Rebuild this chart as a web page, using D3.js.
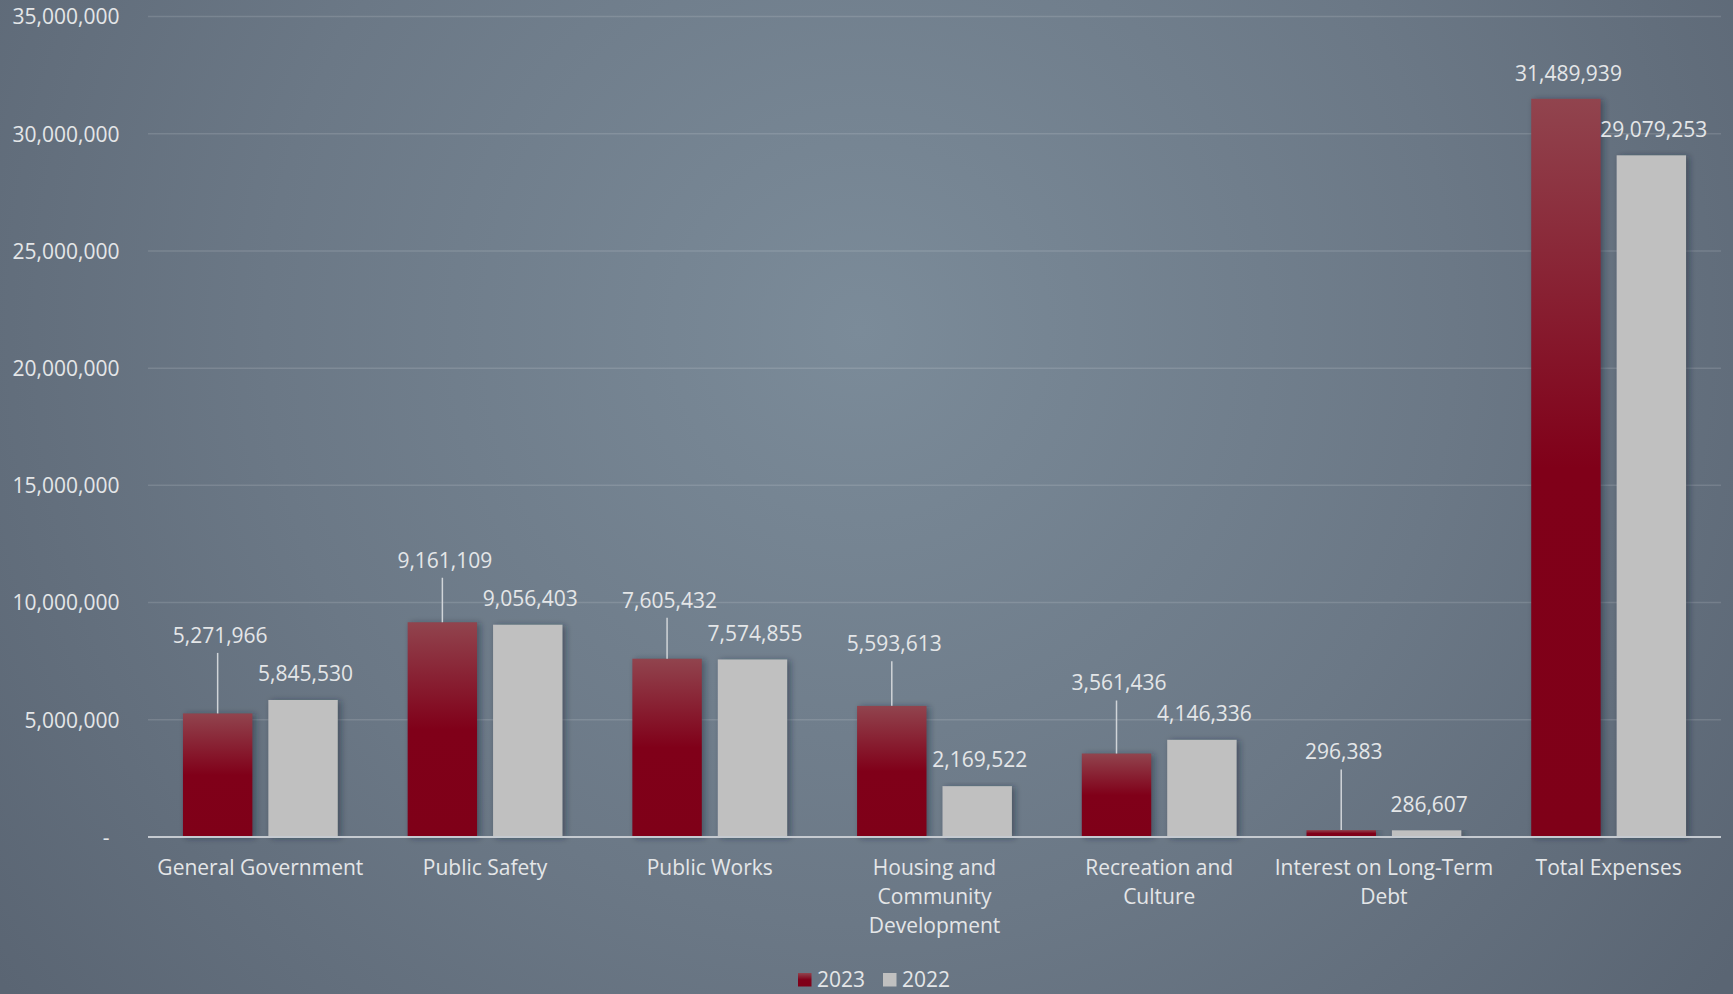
<!DOCTYPE html>
<html>
<head>
<meta charset="utf-8">
<script src="https://cdn.jsdelivr.net/npm/d3@7"></script>
<style>
  html, body { margin: 0; padding: 0; background: #66727f; }
  svg { display: block; }
  text { font-family: "Open Sans", "Noto Sans", sans-serif; }
</style>
</head>
<body>
<svg id="chart" width="1733" height="994"></svg>
<script>
// Expense categories and yearly totals
const categories = [
  "General Government",
  "Public Safety",
  "Public Works",
  "Housing and Community Development",
  "Recreation and Culture",
  "Interest on Long-Term Debt",
  "Total Expenses"
];
const seriesNames = ["2023", "2022"];
const values2023 = [5271966, 9161109, 7605432, 5593613, 3561436, 296383, 31489939];
const values2022 = [5845530, 9056403, 7574855, 2169522, 4146336, 286607, 29079253];
const yTicks = [0, 5000000, 10000000, 15000000, 20000000, 25000000, 30000000, 35000000];

// How far each 2023 value label sits above its bar (leader lines fill the gap)
const labelLift2023 = [78, 62, 58.5, 62, 70.5, 78, 25];
const labelLift2022 = 26;

const W = 1733, H = 994;
const plot = { left: 148, right: 1721, top: 16.5, bottom: 837 };

const svg = d3.select("#chart");
const defs = svg.append("defs");

// Background: soft radial light
const bg = defs.append("radialGradient")
  .attr("id", "bg").attr("gradientUnits", "userSpaceOnUse")
  .attr("cx", 860).attr("cy", 330).attr("r", 1080);
bg.append("stop").attr("offset", 0).attr("stop-color", "#7b8b99");
bg.append("stop").attr("offset", 0.55).attr("stop-color", "#6b7886");
bg.append("stop").attr("offset", 1).attr("stop-color", "#5a6573");

// 2023 bars: muted top fading into deep crimson
const red = defs.append("linearGradient")
  .attr("id", "red").attr("x1", 0).attr("y1", 0).attr("x2", 0).attr("y2", 1);
red.append("stop").attr("offset", 0).attr("stop-color", "#91444e");
red.append("stop").attr("offset", 0.5).attr("stop-color", "#800019");
red.append("stop").attr("offset", 1).attr("stop-color", "#7f0018");

const shadow = defs.append("filter").attr("id", "shadow")
  .attr("x", "-30%").attr("y", "-10%").attr("width", "160%").attr("height", "120%");
shadow.append("feGaussianBlur").attr("stdDeviation", 3);

svg.append("rect").attr("width", W).attr("height", H).attr("fill", "url(#bg)");

const x0 = d3.scaleBand().domain(categories).range([plot.left, plot.right]).padding(0);
const x1 = d3.scaleBand().domain(seriesNames).range([0, x0.bandwidth()])
  .paddingInner(0.187).paddingOuter(0.409);
const y = d3.scaleLinear().domain([0, 35000000]).range([plot.bottom, plot.top]);

const fmt = d3.format(",");
const textColor = "#e4e6e8";

// Horizontal gridlines
svg.append("g").selectAll("line")
  .data(yTicks.filter(d => d > 0))
  .join("line")
  .attr("x1", plot.left).attr("x2", plot.right)
  .attr("y1", d => y(d)).attr("y2", d => y(d))
  .attr("stroke", "#ffffff").attr("stroke-opacity", 0.13).attr("stroke-width", 1.5);

// Y axis labels
const yAxis = d3.axisLeft(y).tickValues(yTicks).tickSize(0).tickPadding(0)
  .tickFormat(d => d === 0 ? "-" : fmt(d));
const yg = svg.append("g").attr("transform", "translate(119.5,0)").call(yAxis);
yg.select(".domain").remove();
yg.selectAll("text")
  .attr("fill", textColor).attr("font-size", 21)
  .attr("font-family", "'Open Sans', sans-serif")
  .attr("dy", "0.35em")
  .attr("dx", d => d === 0 ? -10 : 0);

// Bars
const rows = categories.map((c, i) => ({
  cat: c, i,
  bars: [
    { s: "2023", v: values2023[i], fill: "url(#red)" },
    { s: "2022", v: values2022[i], fill: "#c0c0c0" }
  ]
}));

const groups = svg.append("g").selectAll("g")
  .data(rows).join("g")
  .attr("transform", d => `translate(${x0(d.cat)},0)`);

// Soft shadow behind each bar
groups.selectAll("rect.shadow")
  .data(d => d.bars).join("rect")
  .attr("class", "shadow")
  .attr("x", b => x1(b.s) + 3)
  .attr("width", x1.bandwidth())
  .attr("y", b => y(b.v) + 1)
  .attr("height", b => y(0) - y(b.v))
  .attr("fill", "#1c2530").attr("fill-opacity", 0.45)
  .attr("filter", "url(#shadow)");

groups.selectAll("rect.bar")
  .data(d => d.bars).join("rect")
  .attr("class", "bar")
  .attr("x", b => x1(b.s))
  .attr("width", x1.bandwidth())
  .attr("y", b => y(b.v))
  .attr("height", b => y(0) - y(b.v))
  .attr("fill", b => b.fill);

// Baseline
svg.append("line")
  .attr("x1", plot.left).attr("x2", plot.right)
  .attr("y1", y(0)).attr("y2", y(0))
  .attr("stroke", "#c5cad0").attr("stroke-width", 2.2);

// Value labels with leader lines for 2023
groups.each(function (d) {
  const g = d3.select(this);
  const cx23 = x1("2023") + x1.bandwidth() / 2;
  const cx22 = x1("2022") + x1.bandwidth() / 2;
  const top23 = y(values2023[d.i]);
  const top22 = y(values2022[d.i]);
  const ly23 = top23 - labelLift2023[d.i];
  if (labelLift2023[d.i] > 35) {
    g.append("line")
      .attr("x1", cx23).attr("x2", cx23)
      .attr("y1", ly23 + 17.5).attr("y2", top23)
      .attr("stroke", "#d0d4d8").attr("stroke-width", 1.5);
  }
  g.append("text")
    .attr("x", cx23 + 2.5).attr("y", ly23).attr("dy", "0.35em")
    .attr("text-anchor", "middle").attr("fill", textColor).attr("font-size", 21)
    .text(fmt(values2023[d.i]));
  g.append("text")
    .attr("x", cx22 + 2.5).attr("y", top22 - labelLift2022).attr("dy", "0.35em")
    .attr("text-anchor", "middle").attr("fill", textColor).attr("font-size", 21)
    .text(fmt(values2022[d.i]));
});

// Category labels, wrapped to the band width
const catG = svg.append("g");
categories.forEach(c => {
  const cx = x0(c) + x0.bandwidth() / 2;
  const t = catG.append("text")
    .attr("x", cx).attr("y", 867.5).attr("dy", "0.35em")
    .attr("text-anchor", "middle").attr("fill", textColor).attr("font-size", 21);
  const words = c.split(" ");
  let line = [];
  let ts = t.append("tspan").attr("x", cx).attr("dy", "0.35em");
  words.forEach(w => {
    line.push(w);
    ts.text(line.join(" "));
    if (ts.node().getComputedTextLength() > 221 && line.length > 1) {
      line.pop();
      ts.text(line.join(" "));
      line = [w];
      ts = t.append("tspan").attr("x", cx).attr("dy", "1.39em").text(w);
    }
  });
});

// Legend
const legend = svg.append("g").attr("transform", "translate(798,973)");
const legendItems = [
  { s: seriesNames[0], fill: "url(#red)", x: 0 },
  { s: seriesNames[1], fill: "#c0c0c0", x: 85 }
];
legendItems.forEach(it => {
  legend.append("rect").attr("x", it.x).attr("y", 0)
    .attr("width", 13.5).attr("height", 13.5).attr("fill", it.fill);
  legend.append("text").attr("x", it.x + 19).attr("y", 7).attr("dy", "0.35em")
    .attr("fill", textColor).attr("font-size", 21).text(it.s);
});
</script>
</body>
</html>
